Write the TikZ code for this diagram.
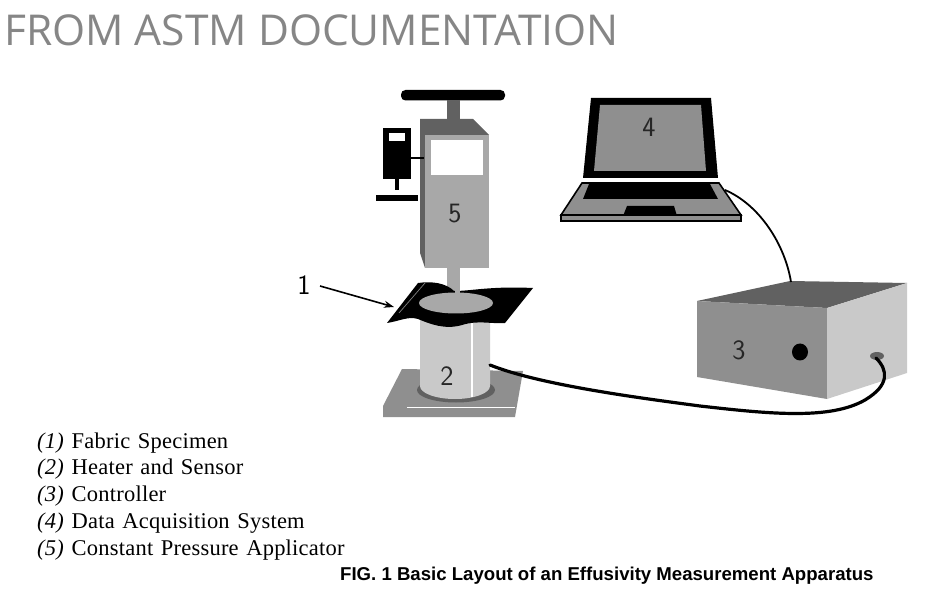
\documentclass[tikz,border=0pt]{standalone}
\usepackage{fontspec}
\usetikzlibrary{arrows.meta}
\setmainfont{Liberation Serif}
\newfontfamily\titlefont{Open Sans}
\newfontfamily\capfont{Liberation Sans}
\newfontfamily\legfont[LetterSpace=1,WordSpace=1.3]{Liberation Serif}
\definecolor{dark}{gray}{0.38}
\definecolor{mid}{gray}{0.56}
\definecolor{light}{gray}{0.66}
\definecolor{pale}{gray}{0.79}
\tikzset{
  num/.style={font=\fontsize{28}{28}\selectfont\sffamily,text=black!85,inner sep=0pt},
  legend/.style={anchor=base west,inner sep=0pt,font=\fontsize{22.5}{23}\selectfont\legfont},
  cable/.style={line width=3.2pt,line cap=round},
}
\begin{document}
\begin{tikzpicture}[x=1pt,y=-1pt]
\useasboundingbox (0,0) rectangle (926,593);

\node [anchor=base west,inner sep=0pt,text=gray!95!white,font=\fontsize{42.5}{43}\selectfont\titlefont] (title) at (4,46) {FROM ASTM DOCUMENTATION};

% applicator
\fill [black,rounded corners=4.5pt] (401,90) rectangle (505,100.5);
\fill [dark] (447,100) rectangle (460,120);
\fill [dark] (420,119) -- (473,119) -- (489,135) -- (425,135) -- (425,268) -- (420,253) -- cycle;
\fill [light] (425,135) rectangle (489,268);
\fill [white] (431,140) rectangle (483,175);
\fill [light] (447,268) rectangle (460,292);
\draw [line width=2pt] (411,158) -- (424,158);
\fill [black] (383,128) rectangle (411,179);
\fill [white] (389,133) rectangle (405,141);
\draw [line width=3.5pt] (397,179) -- (397,190);
\fill [black] (376,195) rectangle (418,201);
\node [num] (five) at (455,214) {5};

% stand
\fill [mid] (402,369) -- (523,371) -- (515,417) -- (383,417) -- (383,406) -- cycle;
\draw [white,line width=1pt] (407,407) -- (515,407);
\fill [dark] (456,390) ellipse [x radius=39,y radius=12.5];
\fill [pale] (420,318) -- (420,386) arc [start angle=180,end angle=0,x radius=35,y radius=13] -- (490,318) -- cycle;
\draw [white,line width=1.4pt] (472,322) -- (472,397);
\node [num] (two) at (447,376) {2};

% fabric
\fill [black] (418,283) .. controls (432,281) and (446,283) .. (454,291)
  .. controls (472,291) and (490,286) .. (533,288)
  -- (505,323)
  .. controls (490,324) and (478,320) .. (462,325)
  .. controls (445,330) and (430,324) .. (418,319)
  .. controls (408,316) and (400,321) .. (387,323) -- cycle;
\draw [gray,line width=0.7pt] (399,313) -- (425,283);
\fill [light] (456,303) ellipse [x radius=37,y radius=10.5];
\fill [light] (455,285) rectangle (460,295);

\node [inner sep=0pt,font=\fontsize{28}{28}\selectfont\sffamily] (one) at (304,285) {1};
\coordinate (fabricpt) at (394,307);
\draw [line width=1.6pt,-{Stealth[length=10pt,width=7pt]}] (one) ++(16,1) -- (fabricpt);

% laptop
\fill [black] (591,98) -- (711,98) -- (718,178) -- (583,178) -- cycle;
\fill [mid] (600,105) -- (701,105) -- (706,171) -- (594,171) -- cycle;
\node [num] (four) at (649,127) {4};
\draw [fill=mid,line width=1.6pt] (582,183) -- (719,183) -- (741,215) -- (561,215) -- cycle;
\draw [fill=mid,line width=1.6pt] (561,215) rectangle (741,221);
\fill [black] (589,184) -- (710,184) -- (718,199) -- (583,199) -- cycle;
\fill [black] (627,206) -- (674,206) -- (677,216) -- (623,216) -- cycle;

% controller
\fill [dark] (697,301) -- (790,281) -- (907,283) -- (827,308) -- cycle;
\fill [mid] (697,301) -- (827,308) -- (827,399) -- (697,377) -- cycle;
\fill [pale] (827,308) -- (907,283) -- (907,373) -- (827,399) -- cycle;
\fill [black] (800,352) ellipse [x radius=8,y radius=8.5];
\node [num] (three) at (739,350) {3};
\fill [dark] (877,356) ellipse [x radius=7,y radius=4];

% cables
\coordinate (lapport) at (725,190);
\coordinate (boxtop) at (791,282);
\coordinate (heater) at (490,365);
\coordinate (boxport) at (876,358);
\draw [line width=1.8pt] (lapport) .. controls (760,205) and (785,245) .. (boxtop);
\draw [cable] (heater) .. controls (540,385) and (640,398) .. (700,406)
  .. controls (770,414) and (830,420) .. (865,400)
  .. controls (890,385) and (888,370) .. (boxport);

% legend
\node [legend] (lone) at (37,448) {\textit{(1)} Fabric Specimen};
\node [legend] (ltwo) at (37,474.5) {\textit{(2)} Heater and Sensor};
\node [legend] (lthree) at (37,501) {\textit{(3)} Controller};
\node [legend] (lfour) at (37,528) {\textit{(4)} Data Acquisition System};
\node [legend] (lfive) at (37,555) {\textit{(5)} Constant Pressure Applicator};
\node [anchor=base west,inner sep=0pt,font=\fontsize{18.6}{19}\selectfont\capfont\bfseries] (figcap) at (340,580) {FIG. 1 Basic Layout of an Effusivity Measurement Apparatus};
\end{tikzpicture}
\end{document}
